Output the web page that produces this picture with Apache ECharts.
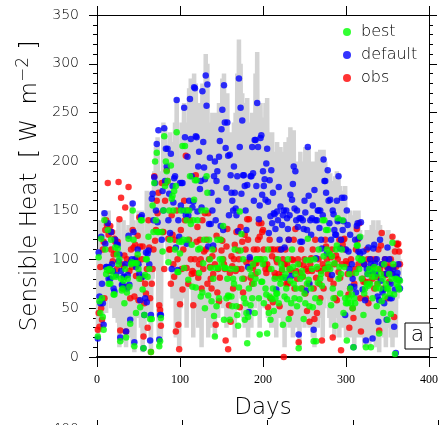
<!DOCTYPE html>
<html>
<head>
<meta charset="utf-8">
<script src="https://cdn.jsdelivr.net/npm/echarts@6/dist/echarts.min.js"></script>
<style>
html, body { margin: 0; padding: 0; background: #fff; }
#main { width: 441px; height: 425px; }
</style>
</head>
<body>
<div id="main"></div>
<script>
// daily sensible heat, day 1..365
var heat = [
  20, 110, 25, 140, 40, 120, 30, 150, 60, 145,
  45, 140, 70, 150, 60, 135, 50, 130, 55, 125,
  40, 125, 70, 130, 35, 140, 10, 120, 30, 115,
  60, 140, 15, 130, 10, 125, 60, 135, 20, 130,
  35, 160, 10, 140, 5, 130, 60, 125, 40, 150,
  50, 150, 30, 150, 5, 110, 20, 90, 40, 170,
  50, 165, 60, 120, 5, 170, 80, 150, 190, 120,
  215, 90, 225, 40, 10, 60, 20, 190, 120, 240,
  120, 235, 140, 215, 100, 210, 150, 230, 110, 220,
  60, 200, 100, 240, 20, 265, 80, 200, 10, 180,
  50, 240, 60, 190, 260, 100, 230, 30, 240, 120,
  275, 70, 285, 100, 230, 20, 290, 150, 280, 50,
  250, 30, 260, 60, 240, 10, 280, 100, 250, 40,
  310, 120, 300, 20, 240, 60, 230, 30, 250, 40,
  220, 20, 250, 60, 230, 40, 260, 80, 240, 60,
  285, 50, 290, 80, 250, 30, 270, 40, 230, 50,
  230, 40, 210, 60, 240, 20, 250, 50, 290, 80,
  325, 120, 300, 60, 270, 40, 230, 30, 260, 40,
  265, 20, 240, 60, 230, 30, 250, 100, 240, 50,
  290, 110, 312, 60, 250, 30, 260, 90, 245, 60,
  240, 50, 260, 70, 265, 40, 215, 60, 230, 30,
  230, 40, 200, 30, 210, 20, 220, 50, 200, 40,
  215, 60, 200, 30, 210, 10, 220, 70, 200, 40,
  225, 30, 235, 60, 230, 20, 232, 70, 200, 30,
  200, 60, 180, 10, 210, 40, 200, 50, 190, 30,
  215, 40, 200, 80, 215, 30, 190, 50, 200, 20,
  180, 10, 200, 50, 210, 30, 195, 60, 212, 40,
  205, 20, 212, 50, 200, 60, 190, 70, 185, 40,
  188, 30, 180, 50, 170, 20, 185, 60, 190, 40,
  188, 20, 175, 40, 170, 30, 165, 40, 175, 20,
  140, 20, 130, 50, 150, 20, 140, 60, 145, 10,
  150, 40, 140, 20, 150, 30, 130, 20, 120, 40,
  125, 10, 110, 40, 130, 20, 120, 10, 130, 30,
  135, 20, 140, 50, 130, 10, 120, 30, 140, 5,
  135, 30, 120, 40, 130, 20, 110, 10, 125, 30,
  130, 40, 120, 20, 125, 10, 115, 30, 110, 20,
  120, 60, 110, 70, 100
];

var best = [
  21, 102, 57, 45, 121, 60, 41, 28, 140, 110,
  85, 89, 130, 75, 90, 75, 120, 88, 82, 64,
  64, 112, 82, 105, 111, 95, 100, 16, 80, 68,
  70, 78, 55, 90, 20, 66, 80, 121, 72, 34,
  95, 97, 150, 120, 11, 96, 45, 96, 105, 90,
  80, 51, 140, 140, 69, 9, 43, 84, 100, 100,
  82, 123, 90, 39, 5, 39, 155, 128, 178, 200,
  140, 209, 128, 128, 11, 16, 40, 128, 108, 150,
  226, 175, 200, 190, 180, 97, 150, 120, 196, 162,
  165, 150, 170, 110, 175, 230, 87, 87, 118, 106,
  150, 118, 216, 120, 91, 216, 150, 140, 120, 79,
  150, 185, 136, 115, 72, 140, 161, 181, 71, 181,
  140, 110, 86, 111, 62, 150, 66, 96, 120, 50,
  150, 185, 168, 63, 120, 100, 91, 57, 110, 80,
  42, 21, 91, 52, 120, 91, 60, 100, 120, 95,
  100, 134, 38, 91, 91, 60, 80, 63, 62, 38,
  90, 62, 52, 80, 75, 110, 90, 52, 43, 32,
  71, 149, 109, 126, 80, 100, 60, 38, 55, 45,
  14, 41, 70, 90, 53, 84, 60, 95, 75, 45,
  80, 100, 100, 87, 60, 23, 100, 77, 77, 95,
  55, 100, 70, 64, 24, 110, 45, 62, 38, 90,
  59, 70, 47, 80, 60, 65, 65, 100, 55, 80,
  75, 95, 90, 33, 81, 62, 85, 70, 59, 100,
  39, 90, 78, 55, 110, 92, 75, 60, 85, 70,
  52, 95, 9, 59, 80, 70, 88, 83, 39, 65,
  55, 99, 75, 121, 79, 52, 99, 70, 90, 51,
  16, 100, 60, 16, 92, 76, 110, 56, 80, 85,
  73, 140, 103, 140, 90, 130, 110, 130, 95, 106,
  90, 53, 103, 70, 60, 96, 32, 110, 114, 142,
  80, 92, 65, 85, 110, 140, 45, 92, 60, 55,
  17, 55, 60, 85, 70, 55, 64, 50, 10, 60,
  55, 86, 114, 114, 101, 90, 123, 99, 80, 100,
  43, 65, 70, 10, 75, 85, 73, 90, 75, 10,
  82, 60, 88, 92, 82, 70, 52, 75, 90, 24,
  70, 85, 57, 80, 45, 95, 62, 75, 70, 38,
  70, 85, 65, 44, 80, 117, 95, 64, 3, 80,
  75, 79, 72, 69, 78
];

var dflt = [
  19, 107, 62, 55, 123, 75, 55, 33, 147, 116,
  92, 92, 137, 80, 92, 80, 128, 95, 88, 70,
  67, 120, 84, 115, 115, 98, 105, 20, 88, 74,
  74, 82, 82, 95, 26, 70, 84, 124, 74, 38,
  97, 100, 157, 128, 15, 100, 92, 95, 110, 95,
  85, 58, 143, 145, 82, 9, 43, 60, 107, 56,
  106, 109, 95, 17, 43, 162, 167, 140, 184, 178,
  150, 218, 138, 232, 18, 43, 43, 120, 170, 150,
  234, 180, 213, 195, 213, 140, 167, 127, 208, 90,
  175, 158, 183, 185, 112, 263, 89, 140, 123, 178,
  155, 178, 178, 150, 255, 225, 145, 116, 205, 145,
  160, 264, 223, 185, 153, 159, 276, 275, 226, 225,
  149, 195, 210, 172, 180, 153, 272, 220, 194, 182,
  288, 257, 279, 113, 136, 204, 136, 168, 150, 114,
  185, 200, 140, 180, 190, 160, 205, 221, 134, 233,
  253, 130, 278, 240, 214, 173, 240, 206, 145, 207,
  186, 168, 160, 150, 195, 168, 152, 145, 185, 129,
  285, 215, 255, 167, 242, 186, 186, 175, 150, 130,
  176, 92, 46, 102, 185, 185, 215, 188, 160, 222,
  222, 175, 260, 215, 141, 155, 224, 227, 166, 190,
  175, 182, 161, 198, 213, 159, 127, 181, 144, 191,
  137, 168, 147, 146, 131, 69, 149, 140, 174, 120,
  154, 110, 135, 145, 150, 112, 81, 150, 142, 131,
  120, 145, 166, 83, 161, 177, 195, 152, 190, 140,
  150, 133, 23, 142, 118, 142, 118, 140, 131, 160,
  148, 68, 130, 215, 165, 75, 140, 125, 142, 155,
  28, 171, 140, 101, 140, 150, 150, 132, 150, 120,
  111, 145, 202, 180, 180, 168, 106, 191, 160, 137,
  161, 120, 84, 150, 146, 130, 125, 125, 160, 139,
  185, 140, 111, 120, 163, 130, 139, 163, 43, 110,
  150, 135, 108, 90, 125, 72, 95, 80, 10, 72,
  120, 66, 134, 137, 108, 122, 106, 138, 99, 69,
  108, 95, 58, 17, 90, 85, 112, 88, 100, 95,
  88, 19, 111, 115, 96, 85, 100, 62, 36, 58,
  120, 78, 95, 66, 69, 55, 100, 85, 38, 112,
  90, 100, 60, 75, 60, 85, 90, 31, 69, 4,
  82, 86, 95, 79, 70
];

var obs = [
  28, 45, 31, 92, 50, 38, 110, 118, 60, 130,
  140, 135, 178, 125, 88, 134, 110, 128, 98, 105,
  121, 118, 106, 90, 118, 179, 141, 27, 163, 95,
  70, 93, 104, 153, 26, 100, 72, 174, 88, 60,
  110, 92, 130, 112, 62, 115, 83, 101, 124, 58,
  143, 113, 80, 100, 113, 21, 55, 75, 65, 90,
  30, 140, 112, 60, 5, 75, 90, 110, 185, 119,
  130, 160, 147, 168, 53, 48, 32, 178, 128, 128,
  90, 160, 178, 191, 180, 121, 110, 110, 75, 145,
  125, 95, 82, 120, 26, 150, 100, 33, 8, 54,
  130, 90, 69, 110, 160, 140, 206, 91, 150, 75,
  120, 140, 100, 85, 88, 53, 86, 100, 186, 118,
  133, 81, 95, 120, 100, 70, 140, 90, 108, 147,
  110, 120, 75, 147, 100, 92, 80, 70, 103, 85,
  110, 95, 33, 124, 66, 90, 57, 81, 120, 109,
  119, 100, 95, 90, 17, 113, 131, 8, 53, 86,
  36, 103, 93, 70, 100, 115, 88, 128, 90, 109,
  100, 51, 133, 90, 118, 66, 80, 125, 110, 97,
  141, 120, 141, 100, 81, 93, 75, 91, 110, 96,
  85, 96, 110, 120, 137, 123, 100, 137, 128, 130,
  110, 95, 90, 86, 95, 51, 90, 120, 60, 110,
  103, 56, 110, 86, 82, 100, 97, 110, 85, 52,
  110, 82, 89, 100, 0, 95, 110, 75, 95, 75,
  120, 90, 45, 88, 100, 99, 120, 70, 131, 88,
  80, 100, 15, 95, 86, 110, 70, 82, 94, 100,
  65, 90, 47, 88, 75, 36, 95, 101, 88, 110,
  70, 39, 120, 81, 45, 90, 100, 75, 60, 88,
  17, 95, 70, 91, 120, 113, 100, 85, 92, 105,
  80, 102, 110, 20, 75, 95, 60, 104, 58, 100,
  87, 120, 81, 7, 95, 115, 120, 121, 110, 98,
  95, 85, 64, 30, 70, 100, 85, 50, 40, 75,
  90, 110, 131, 120, 95, 137, 60, 26, 100, 80,
  77, 95, 77, 60, 110, 100, 55, 77, 90, 100,
  85, 80, 93, 70, 100, 82, 82, 75, 110, 27,
  90, 114, 127, 95, 70, 85, 100, 84, 92, 60,
  94, 77, 90, 100, 85, 123, 92, 41, 108, 92,
  116, 115, 116, 108, 95
];

var xTicks = [0, 100, 200, 300, 400];
var yTicks = [0, 50, 100, 150, 200, 250, 300, 350];
var legendNames = ['best', 'default', 'obs'];

// turn a daily list into [day, value] pairs
function pairs(arr) {
    return arr.map(function (v, i) { return [i + 1, v]; });
}

var chart = echarts.init(document.getElementById('main'));

var black = { color: '#000', width: 1 };
var sansFont = 'DejaVu Sans';

var option = {
    animation: false,
    grid: [
        { left: 97, top: 15, width: 341, height: 342 },
        { left: 97, top: 429, width: 341, height: 342 }
    ],
    legend: {
        data: legendNames,
        orient: 'vertical',
        left: 338,
        top: 19,
        icon: 'circle',
        itemWidth: 8,
        itemHeight: 8,
        itemGap: 7,
        textStyle: { fontFamily: sansFont, fontWeight: 300, fontSize: 16, color: '#000', padding: [0, 0, 0, 5] }
    },
    xAxis: [
        {
            gridIndex: 0, type: 'value', position: 'bottom',
            min: xTicks[0], max: xTicks[xTicks.length - 1], interval: 100,
            axisLine: { show: true, onZero: false, lineStyle: { color: '#000', width: 2 } },
            axisTick: { show: true, length: 10, lineStyle: black },
            axisLabel: { fontFamily: 'Liberation Serif', fontSize: 12, color: '#000', margin: 17 },
            splitLine: { show: false },
            name: 'Days', nameLocation: 'middle', nameGap: 40,
            nameTextStyle: { fontFamily: sansFont, fontWeight: 300, fontSize: 23, color: '#000' }
        },
        {
            gridIndex: 0, type: 'value', position: 'top',
            min: xTicks[0], max: xTicks[xTicks.length - 1], interval: 100,
            axisLine: { show: true, onZero: false, lineStyle: black },
            axisTick: { show: true, length: 9, lineStyle: black },
            axisLabel: { show: false },
            splitLine: { show: false }
        },
        {
            gridIndex: 1, type: 'value', position: 'top',
            min: 0, max: 400, interval: 100,
            axisLine: { show: true, onZero: false, lineStyle: black },
            axisTick: { show: true, length: 9, lineStyle: black },
            axisLabel: { show: false },
            splitLine: { show: false }
        }
    ],
    yAxis: [
        {
            gridIndex: 0, type: 'value', position: 'left',
            min: yTicks[0], max: yTicks[yTicks.length - 1], interval: 50,
            axisLine: { show: true, onZero: false, lineStyle: black },
            axisTick: { show: true, length: 8, lineStyle: black },
            minorTick: { show: true, splitNumber: 5, length: 4, lineStyle: black },
            axisLabel: { fontFamily: sansFont, fontWeight: 300, fontSize: 14, color: '#000', margin: 18 },
            splitLine: { show: false },
            name: '{t|Sensible Heat  [ W  m}{s|−2}{t| ]}',
            nameLocation: 'middle', nameGap: 52, nameRotate: 90,
            nameTextStyle: {
                rich: {
                    t: { fontFamily: sansFont, fontWeight: 300, fontSize: 23, color: '#000', lineHeight: 30 },
                    s: { fontFamily: sansFont, fontWeight: 300, fontSize: 17, color: '#000', lineHeight: 18, verticalAlign: 'top' }
                }
            }
        },
        {
            gridIndex: 0, type: 'value', position: 'right',
            min: yTicks[0], max: yTicks[yTicks.length - 1], interval: 50,
            axisLine: { show: true, onZero: false, lineStyle: black },
            axisTick: { show: true, length: 8, lineStyle: black },
            minorTick: { show: true, splitNumber: 5, length: 4, lineStyle: black },
            axisLabel: { show: false },
            splitLine: { show: false }
        },
        {
            gridIndex: 1, type: 'value', position: 'left',
            min: 0, max: 400, interval: 100,
            axisLine: { show: true, onZero: false, lineStyle: black },
            axisTick: { show: true, length: 8, lineStyle: black },
            axisLabel: { fontFamily: sansFont, fontWeight: 300, fontSize: 14, color: '#000', margin: 18 },
            splitLine: { show: false }
        }
    ],
    graphic: [
        {
            type: 'rect', x: 405, y: 323, z: 100,
            shape: { width: 25, height: 26 },
            style: { fill: '#fff', stroke: '#000', lineWidth: 1 }
        },
        {
            type: 'text', x: 417.5, y: 335, z: 101,
            style: { text: 'a', font: '300 22px "DejaVu Sans"', fill: '#000', align: 'center', verticalAlign: 'middle' }
        }
    ],
    series: [
        {
            name: 'heat', type: 'line', xAxisIndex: 0, yAxisIndex: 0,
            data: pairs(heat), showSymbol: false, silent: true, z: 1,
            lineStyle: { color: '#d3d3d3', width: 4.5 }
        },
        {
            name: 'obs', type: 'scatter', xAxisIndex: 0, yAxisIndex: 0,
            data: pairs(obs), symbolSize: 6.5, clip: false, z: 2,
            itemStyle: { color: '#ff0000' }
        },
        {
            name: 'default', type: 'scatter', xAxisIndex: 0, yAxisIndex: 0,
            data: pairs(dflt), symbolSize: 6.5, clip: false, z: 3,
            itemStyle: { color: '#0000ff' }
        },
        {
            name: 'best', type: 'scatter', xAxisIndex: 0, yAxisIndex: 0,
            data: pairs(best), symbolSize: 6.5, clip: false, z: 4,
            itemStyle: { color: '#00ff00' }
        }
    ]
};

option && chart.setOption(option);
</script>
</body>
</html>
